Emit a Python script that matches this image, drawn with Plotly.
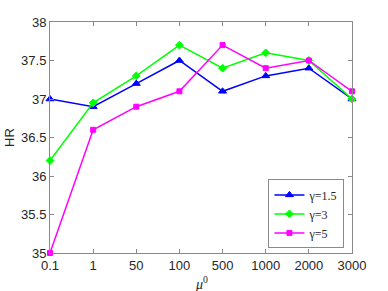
import plotly.graph_objects as go

mu_labels = ["0.1", "1", "50", "100", "500", "1000", "2000", "3000"]
hr_g15 = [37.0, 36.9, 37.2, 37.5, 37.1, 37.3, 37.4, 37.0]
hr_g3 = [36.2, 36.95, 37.3, 37.7, 37.4, 37.6, 37.5, 37.0]
hr_g5 = [35.0, 36.6, 36.9, 37.1, 37.7, 37.4, 37.5, 37.1]
series_names = ["γ=1.5", "γ=3", "γ=5"]
y_ticks = [35, 35.5, 36, 36.5, 37, 37.5, 38]

styles = [
    dict(color="#0000FF", symbol="triangle-up", size=7),
    dict(color="#00FF00", symbol="diamond", size=6),
    dict(color="#FF00FF", symbol="square", size=5),
]

fig = go.Figure()
for name, vals, st in zip(series_names, [hr_g15, hr_g3, hr_g5], styles):
    fig.add_trace(go.Scatter(
        x=mu_labels, y=vals, name=name, mode="lines+markers",
        line=dict(color=st["color"], width=1.5),
        marker=dict(color=st["color"], symbol=st["symbol"], size=st["size"],
                    line=dict(color=st["color"], width=1)),
        cliponaxis=False,
    ))

axis_common = dict(
    showline=True, linecolor="#8a8a8a", linewidth=1, mirror="ticks",
    ticks="inside", ticklen=4, tickcolor="#8a8a8a", showgrid=False, zeroline=False,
    automargin=False,
    tickfont=dict(family="Liberation Sans, Arial", size=13, color="#262626"),
)

fig.update_layout(
    width=388, height=291,
    margin=dict(l=50, r=36, t=22, b=38),
    paper_bgcolor="white", plot_bgcolor="white",
    xaxis=dict(type="category", range=[0, 7], **axis_common),
    yaxis=dict(range=[35, 38], tickvals=y_ticks, ticktext=[f"{v:g}" for v in y_ticks], **axis_common),
    legend=dict(x=0.975, y=0.02, xanchor="right", yanchor="bottom",
                bgcolor="white", bordercolor="#8a8a8a", borderwidth=1,
                font=dict(family="Liberation Serif, Times New Roman", size=12, color="#262626"),
                tracegroupgap=0, itemwidth=30),
    showlegend=True,
    annotations=[
        dict(text="HR", xref="paper", yref="paper", x=-50/302, y=0.5, xanchor="left", yanchor="middle",
             textangle=-90, showarrow=False,
             font=dict(family="Liberation Sans, Arial", size=13, color="#262626"), xshift=0),
        dict(text="<i>μ</i><sup>0</sup>", xref="paper", yref="paper", x=0.5, y=0, xanchor="center",
             yanchor="top", yshift=-19, showarrow=False,
             font=dict(family="Liberation Serif, Times New Roman", size=14, color="#262626")),
    ],
)

fig.write_html("out.html", config={"displayModeBar": False},
               post_script="document.body.style.margin='0';")
